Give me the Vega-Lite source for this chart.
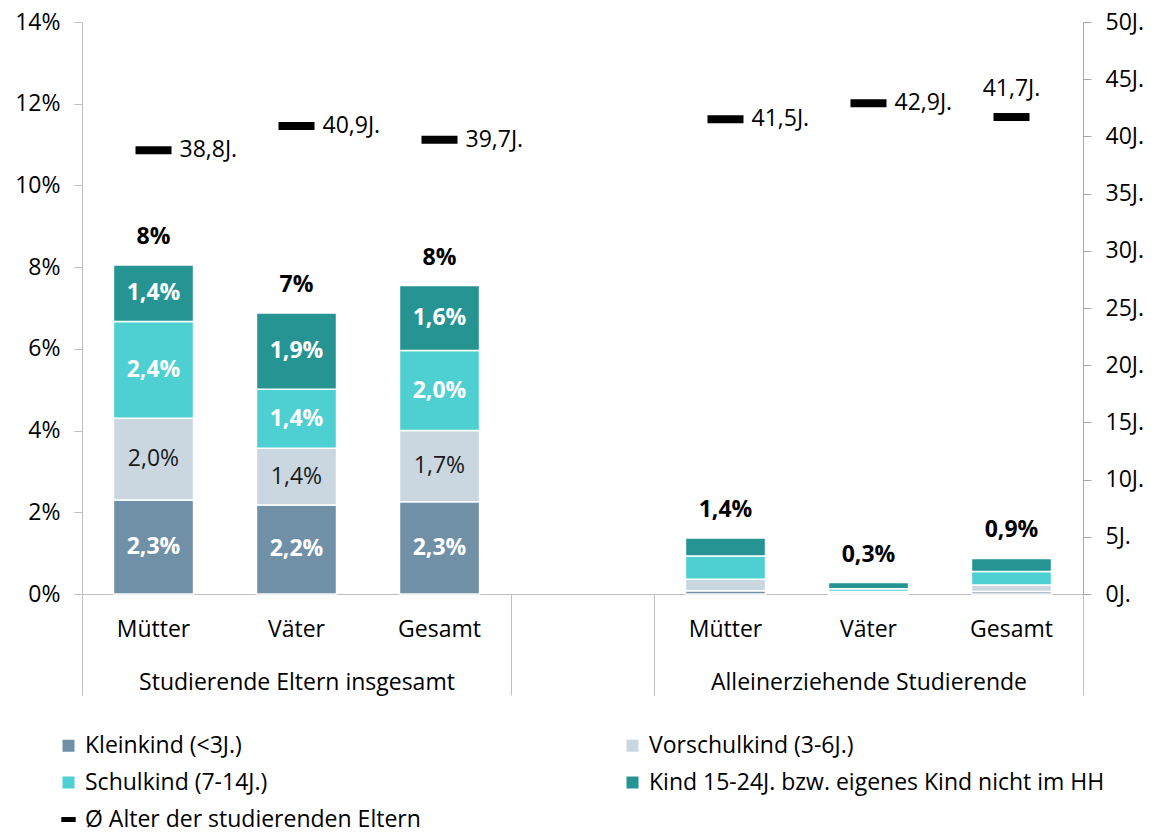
{
  "$schema": "https://vega.github.io/schema/vega-lite/v6.json",
  "width": 1001,
  "height": 572,
  "autosize": {"type": "none"},
  "padding": {"left": 82, "top": 22, "right": 76, "bottom": 238},
  "background": "white",
  "config": {
    "font": "Open Sans",
    "view": {"stroke": null},
    "axis": {"labelFont": "Open Sans", "labelColor": "#000000", "grid": false, "domainColor": "#BFBFBF", "tickColor": "#BFBFBF", "title": null}
  },
  "datasets": {
    "segs": [
      {"slot": "E-Mütter", "cat": "Kleinkind (<3J.)", "v": 2.3},
      {"slot": "E-Mütter", "cat": "Vorschulkind (3-6J.)", "v": 2.0},
      {"slot": "E-Mütter", "cat": "Schulkind (7-14J.)", "v": 2.37},
      {"slot": "E-Mütter", "cat": "Kind 15-24J. bzw. eigenes Kind nicht im HH", "v": 1.38},
      {"slot": "E-Väter", "cat": "Kleinkind (<3J.)", "v": 2.18},
      {"slot": "E-Väter", "cat": "Vorschulkind (3-6J.)", "v": 1.39},
      {"slot": "E-Väter", "cat": "Schulkind (7-14J.)", "v": 1.44},
      {"slot": "E-Väter", "cat": "Kind 15-24J. bzw. eigenes Kind nicht im HH", "v": 1.87},
      {"slot": "E-Gesamt", "cat": "Kleinkind (<3J.)", "v": 2.26},
      {"slot": "E-Gesamt", "cat": "Vorschulkind (3-6J.)", "v": 1.74},
      {"slot": "E-Gesamt", "cat": "Schulkind (7-14J.)", "v": 1.96},
      {"slot": "E-Gesamt", "cat": "Kind 15-24J. bzw. eigenes Kind nicht im HH", "v": 1.59},
      {"slot": "A-Mütter", "cat": "Kleinkind (<3J.)", "v": 0.08},
      {"slot": "A-Mütter", "cat": "Vorschulkind (3-6J.)", "v": 0.28},
      {"slot": "A-Mütter", "cat": "Schulkind (7-14J.)", "v": 0.57},
      {"slot": "A-Mütter", "cat": "Kind 15-24J. bzw. eigenes Kind nicht im HH", "v": 0.44},
      {"slot": "A-Väter", "cat": "Kleinkind (<3J.)", "v": 0.02},
      {"slot": "A-Väter", "cat": "Vorschulkind (3-6J.)", "v": 0.04},
      {"slot": "A-Väter", "cat": "Schulkind (7-14J.)", "v": 0.07},
      {"slot": "A-Väter", "cat": "Kind 15-24J. bzw. eigenes Kind nicht im HH", "v": 0.15},
      {"slot": "A-Gesamt", "cat": "Kleinkind (<3J.)", "v": 0.06},
      {"slot": "A-Gesamt", "cat": "Vorschulkind (3-6J.)", "v": 0.16},
      {"slot": "A-Gesamt", "cat": "Schulkind (7-14J.)", "v": 0.33},
      {"slot": "A-Gesamt", "cat": "Kind 15-24J. bzw. eigenes Kind nicht im HH", "v": 0.32}
    ],
    "ages": [
      {"slot": "E-Mütter", "age": 38.8},
      {"slot": "E-Väter", "age": 40.9},
      {"slot": "E-Gesamt", "age": 39.7},
      {"slot": "A-Mütter", "age": 41.5},
      {"slot": "A-Väter", "age": 42.9},
      {"slot": "A-Gesamt", "age": 41.7}
    ],
    "groups": [
      {"group": "Studierende Eltern insgesamt", "from": 0, "to": 3},
      {"group": "Alleinerziehende Studierende", "from": 4, "to": 7}
    ]
  },
  "resolve": {"scale": {"x": "independent", "y": "independent"}, "axis": {"x": "independent", "y": "independent"}},
  "layer": [
    {
      "data": {"name": "segs"},
      "transform": [
        {"calculate": "indexof(['Kleinkind (<3J.)','Vorschulkind (3-6J.)','Schulkind (7-14J.)','Kind 15-24J. bzw. eigenes Kind nicht im HH'], datum.cat)", "as": "ord"}
      ],
      "layer": [
        {
          "mark": {"type": "bar", "stroke": "white", "strokeWidth": 1.5},
          "encoding": {
            "x": {"field": "slot", "type": "nominal", "sort": null,
              "scale": {"domain": ["E-Mütter", "E-Väter", "E-Gesamt", " ", "A-Mütter", "A-Väter", "A-Gesamt"], "paddingInner": 0.44, "paddingOuter": 0.22},
              "axis": {"orient": "bottom", "labelExpr": "substring(datum.value, 2)", "labelAngle": 0, "ticks": false, "tickSize": 0, "labelPadding": 24, "labelFontSize": 23, "domainColor": "#BFBFBF"}},
            "y": {"field": "v", "type": "quantitative", "stack": "zero",
              "scale": {"domain": [0, 14], "nice": false},
              "axis": {"orient": "left", "values": [0, 2, 4, 6, 8, 10, 12, 14], "labelExpr": "datum.value + '%'", "labelFontSize": 23, "tickSize": 8, "labelPadding": 14}},
            "color": {"field": "cat", "type": "nominal",
              "scale": {"domain": ["Kleinkind (<3J.)", "Schulkind (7-14J.)", "Vorschulkind (3-6J.)", "Kind 15-24J. bzw. eigenes Kind nicht im HH"],
                        "range": ["#6F90A6", "#4ECFD1", "#CAD7E0", "#279494"]},
              "legend": {"orient": "none", "legendX": -25, "legendY": 712, "columns": 2, "columnPadding": 353, "rowPadding": 13,
                "title": null, "labelFontSize": 23, "labelFont": "Open Sans", "labelColor": "#000000", "symbolSize": 144, "labelOffset": 5, "labelLimit": 700,
                "symbolType": "square", "symbolStrokeWidth": 0}},
            "order": {"field": "ord", "type": "quantitative"}
          }
        },
        {
          "transform": [
            {"filter": "substring(datum.slot, 0, 1) === 'E'"},
            {"stack": "v", "groupby": ["slot"], "sort": [{"field": "ord"}], "as": ["y0", "y1"]},
            {"calculate": "(datum.y0 + datum.y1) / 2", "as": "mid"},
            {"calculate": "replace(format(datum.v, '.1f'), '.', ',') + '%'", "as": "lab"},
            {"filter": "datum.cat !== 'Vorschulkind (3-6J.)'"}
          ],
          "mark": {"type": "text", "fontSize": 23, "fontWeight": "bold", "color": "white", "baseline": "middle"},
          "encoding": {
            "x": {"field": "slot", "type": "nominal", "sort": null},
            "y": {"field": "mid", "type": "quantitative"},
            "text": {"field": "lab"}
          }
        },
        {
          "transform": [
            {"filter": "substring(datum.slot, 0, 1) === 'E'"},
            {"stack": "v", "groupby": ["slot"], "sort": [{"field": "ord"}], "as": ["y0", "y1"]},
            {"calculate": "(datum.y0 + datum.y1) / 2", "as": "mid"},
            {"calculate": "replace(format(datum.v, '.1f'), '.', ',') + '%'", "as": "lab"},
            {"filter": "datum.cat === 'Vorschulkind (3-6J.)'"}
          ],
          "mark": {"type": "text", "fontSize": 23, "color": "#1A1A1A", "baseline": "middle"},
          "encoding": {
            "x": {"field": "slot", "type": "nominal", "sort": null},
            "y": {"field": "mid", "type": "quantitative"},
            "text": {"field": "lab"}
          }
        },
        {
          "transform": [
            {"aggregate": [{"op": "sum", "field": "v", "as": "tot"}], "groupby": ["slot"]},
            {"calculate": "substring(datum.slot, 0, 1) === 'E' ? format(datum.tot, '.0f') + '%' : replace(format(datum.tot, '.1f'), '.', ',') + '%'", "as": "lab"}
          ],
          "mark": {"type": "text", "fontSize": 23, "fontWeight": "bold", "color": "#000000", "baseline": "middle", "dy": -28},
          "encoding": {
            "x": {"field": "slot", "type": "nominal", "sort": null},
            "y": {"field": "tot", "type": "quantitative"},
            "text": {"field": "lab"}
          }
        }
      ]
    },
    {
      "data": {"name": "ages"},
      "transform": [
        {"calculate": "replace(format(datum.age, '.1f'), '.', ',') + 'J.'", "as": "lab"}
      ],
      "layer": [
        {
          "mark": {"type": "tick", "size": 36, "thickness": 8, "opacity": 1},
          "encoding": {
            "x": {"field": "slot", "type": "nominal", "sort": null,
              "scale": {"domain": ["E-Mütter", "E-Väter", "E-Gesamt", " ", "A-Mütter", "A-Väter", "A-Gesamt"], "paddingInner": 0.44, "paddingOuter": 0.22},
              "axis": null},
            "y": {"field": "age", "type": "quantitative",
              "scale": {"domain": [0, 50], "nice": false},
              "axis": {"orient": "right", "values": [0, 5, 10, 15, 20, 25, 30, 35, 40, 45, 50], "labelExpr": "datum.value + 'J.'", "labelFontSize": 23, "tickSize": 8, "labelPadding": 14, "domainColor": "#A6A6A6", "tickColor": "#A6A6A6"}},
            "fill": {"datum": "Ø Alter der studierenden Eltern", "type": "nominal",
              "scale": {"range": ["#000000"]},
              "legend": {"orient": "none", "legendX": -25, "legendY": 786, "title": null, "labelFontSize": 23, "labelFont": "Open Sans", "labelColor": "#000000",
                "symbolSize": 144, "labelOffset": 5, "labelLimit": 700, "symbolType": "M-1.2,-0.42H1.2V0.42H-1.2Z", "symbolStrokeWidth": 0, "symbolFillColor": "#000000"}}
          }
        },
        {
          "transform": [{"filter": "datum.slot !== 'A-Gesamt'"}],
          "mark": {"type": "text", "fontSize": 23, "align": "left", "baseline": "middle", "dx": 26, "color": "#000000"},
          "encoding": {
            "x": {"field": "slot", "type": "nominal", "sort": null},
            "y": {"field": "age", "type": "quantitative"},
            "text": {"field": "lab"}
          }
        },
        {
          "transform": [{"filter": "datum.slot === 'A-Gesamt'"}],
          "mark": {"type": "text", "fontSize": 23, "align": "center", "baseline": "middle", "dy": -28, "color": "#000000"},
          "encoding": {
            "x": {"field": "slot", "type": "nominal", "sort": null},
            "y": {"field": "age", "type": "quantitative"},
            "text": {"field": "lab"}
          }
        }
      ]
    },
    {
      "data": {"name": "groups"},
      "mark": {"type": "rect", "opacity": 0},
      "encoding": {
        "x": {"field": "from", "type": "quantitative",
          "scale": {"domain": [0, 7], "nice": false, "zero": false},
          "axis": {"orient": "bottom", "values": [0, 1.5, 3, 4, 5.5, 7], "domain": false, "tickSize": 101, "tickColor": "#BFBFBF",
            "tickOpacity": {"condition": {"test": "datum.value === 1.5 || datum.value === 5.5", "value": 0}, "value": 1},
            "labelExpr": "datum.value === 1.5 ? 'Studierende Eltern insgesamt' : datum.value === 5.5 ? 'Alleinerziehende Studierende' : ''",
            "labelPadding": -24, "labelFontSize": 23, "labelLimit": 600, "labelFlush": false, "labelOverlap": false}},
        "x2": {"field": "to"}
      }
    }
  ]
}
